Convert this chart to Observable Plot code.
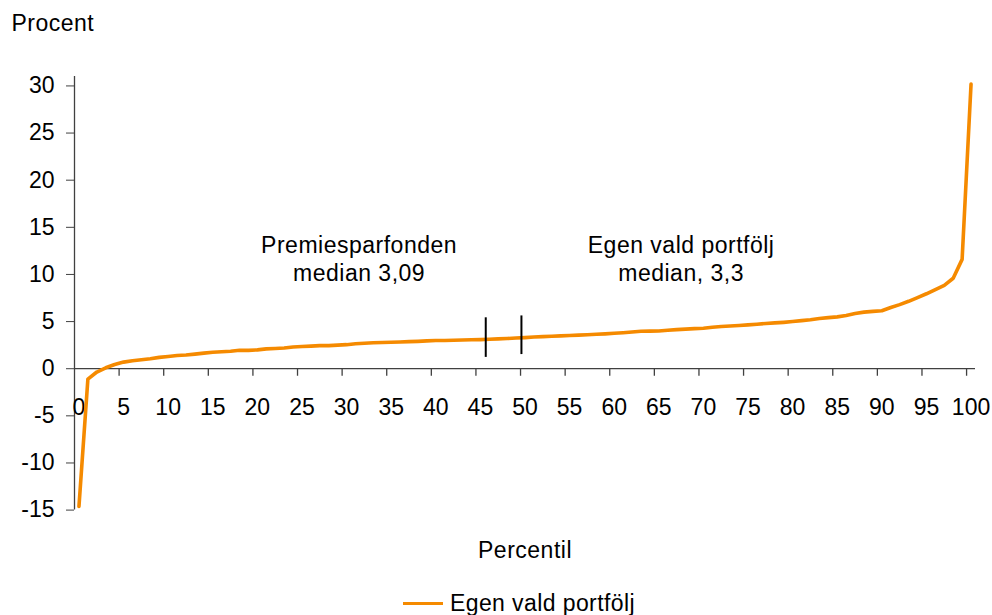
<!DOCTYPE html>
<html>
<head>
<meta charset="utf-8">
<script src="https://cdn.jsdelivr.net/npm/d3@7"></script>
<script src="https://cdn.jsdelivr.net/npm/@observablehq/plot@0.6"></script>
<style>
  html, body { margin: 0; padding: 0; background: #fff; }
  body { font-family: "Liberation Sans", Arial, sans-serif; width: 992px; height: 615px; overflow: hidden; }
  #legend { height: 30px; box-sizing: border-box; padding-top: 6px; padding-left: 403px; display: flex; align-items: center; font-size: 23px; letter-spacing: 0.4px; color: #000; }
  #legend .swatch { width: 40px; height: 3px; background: #F58A00; margin-right: 7px; }
  .words text { letter-spacing: 0.5px; }
</style>
</head>
<body>
<div id="chart"></div>
<div id="legend"><span class="swatch"></span><span>Egen vald portfölj</span></div>
<script>
// Percentile categories (x) and return values (y, procent)
const percentiles = [0,1,2,3,4,5,6,7,8,9,10,11,12,13,14,15,16,17,18,19,20,21,22,23,24,25,26,27,28,29,30,31,32,33,34,35,36,37,38,39,40,41,42,43,44,45,46,47,48,49,50,51,52,53,54,55,56,57,58,59,60,61,62,63,64,65,66,67,68,69,70,71,72,73,74,75,76,77,78,79,80,81,82,83,84,85,86,87,88,89,90,91,92,93,94,95,96,97,98,99,100];
const returns = [-14.6,-1.1,-0.35,0.1,0.45,0.7,0.85,0.95,1.05,1.2,1.3,1.4,1.45,1.55,1.65,1.75,1.8,1.85,1.95,1.95,2.0,2.1,2.15,2.2,2.3,2.35,2.4,2.45,2.45,2.5,2.55,2.65,2.7,2.75,2.78,2.8,2.84,2.87,2.9,2.95,3.0,3.0,3.02,3.05,3.08,3.09,3.12,3.16,3.2,3.25,3.3,3.36,3.4,3.44,3.48,3.52,3.56,3.6,3.65,3.7,3.76,3.82,3.9,3.98,3.99,4.0,4.08,4.15,4.2,4.25,4.3,4.4,4.48,4.53,4.58,4.65,4.72,4.8,4.86,4.92,5.0,5.1,5.2,5.33,5.42,5.5,5.65,5.85,6.0,6.08,6.15,6.5,6.8,7.15,7.55,7.95,8.4,8.85,9.6,11.6,30.2];

const yTicks = [-15,-10,-5,0,5,10,15,20,25,30];
const xTickLabels = [0,5,10,15,20,25,30,35,40,45,50,55,60,65,70,75,80,85,90,95,100];

const annotationText = ["Premiesparfonden\nmedian 3,09", "Egen vald portfölj\nmedian, 3,3"];
const annotationX = [31.4, 67.5];
const annotationY = [11.7, 11.7];

const medianX = [45.6, 49.6];
const medianLow = [1.2, 1.5];
const medianHigh = [5.4, 5.6];

const seriesName = "Egen vald portfölj";

const data = percentiles.map((p, i) => ({p, v: returns[i]}));
const annotations = annotationText.map((t, i) => ({t, x: annotationX[i], y: annotationY[i]}));
const medians = medianX.map((x, i) => ({x, y1: medianLow[i], y2: medianHigh[i]}));

const axisColor = "#404040";
const orange = "#F58A00";

const chart = Plot.plot({
  width: 992,
  height: 585,
  marginLeft: 74,
  marginRight: 17,
  marginTop: 76,
  marginBottom: 75.4,
  style: { fontFamily: "'Liberation Sans', Arial, sans-serif", fontSize: "23px", color: "#000", background: "#fff" },
  x: { type: "linear", domain: [-0.5, 100.5], axis: null },
  y: { domain: [-15, 31] },
  marks: [
    Plot.ruleX([-0.5], { y1: -15, y2: 31, stroke: axisColor, strokeWidth: 1.3 }),
    Plot.axisY(yTicks, { tickSize: 8, tickPadding: 12, tickFormat: d => String(d), stroke: axisColor, label: null, fontSize: 23, fill: "#000" }),
    Plot.ruleY([0], { x1: -0.5, x2: 100.5, stroke: axisColor, strokeWidth: 1.3 }),
    Plot.ruleX(xTickLabels.filter(d => d > 0), { x: d => d - 0.5, y1: 0, y2: -0.8, stroke: axisColor, strokeWidth: 1.3 }),
    Plot.text(xTickLabels, { x: d => d, y: 0, dy: 39, text: d => String(d), fontSize: 23, fill: "#000" }),
    Plot.line(data, { x: "p", y: "v", stroke: orange, strokeWidth: 3.6, strokeLinejoin: "round" }),
    Plot.ruleX(medians, { x: "x", y1: "y1", y2: "y2", stroke: "#000", strokeWidth: 2 }),
    Plot.text(annotations, { x: "x", y: "y", text: "t", fontSize: 23, lineHeight: 1.2, fill: "#000", className: "words" }),
    Plot.text(["Procent"], { frameAnchor: "top-left", dx: -63, dy: -53, textAnchor: "start", lineAnchor: "middle", fontSize: 23, fill: "#000", className: "words" }),
    Plot.text(["Percentil"], { frameAnchor: "bottom", dy: 40.5, lineAnchor: "middle", fontSize: 23, fill: "#000", className: "words" })
  ]
});
document.getElementById("chart").appendChild(chart);
</script>
</body>
</html>
